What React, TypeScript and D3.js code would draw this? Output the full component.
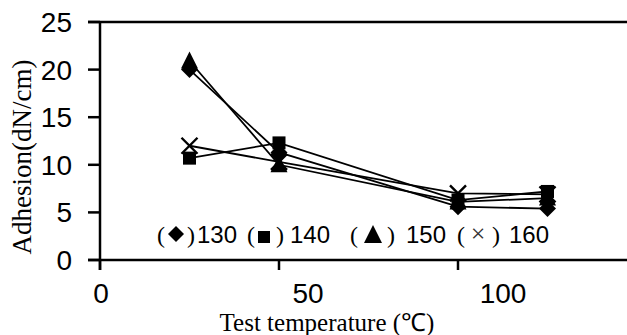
import React from "react";
import * as d3 from "d3";

// Test temperatures (°C) and adhesion (dN/cm) for each curing temperature series
const temperatures = [25, 50, 100, 125];
const series130 = [20.0, 11.3, 5.6, 5.4];
const series140 = [10.7, 12.3, 6.3, 7.2];
const series150 = [20.9, 10.0, 6.1, 6.5];
const series160 = [12.0, 10.3, 7.0, 6.9];

const yTicks = [0, 5, 10, 15, 20, 25];
const xTicks = [0, 50, 100];
const seriesNames = ["130", "140", "150", "160"];

const W = 627;
const H = 335;

const SANS = "'Liberation Sans', Arial, sans-serif";
const SERIF = "'Liberation Serif', 'Times New Roman', serif";

type Shape = "diamond" | "square" | "triangle" | "cross";

function Marker({ cx, cy, shape }: { cx: number; cy: number; shape: Shape }) {
  if (shape === "diamond") {
    const r = 8.5;
    return <path d={`M${cx},${cy - r}L${cx + r},${cy}L${cx},${cy + r}L${cx - r},${cy}Z`} fill="#000" />;
  }
  if (shape === "square") {
    const h = 6.5;
    return <rect x={cx - h} y={cy - h} width={2 * h} height={2 * h} fill="#000" />;
  }
  if (shape === "triangle") {
    const h = 8.5;
    return <path d={`M${cx},${cy - h - 1}L${cx + h},${cy + h - 1}L${cx - h},${cy + h - 1}Z`} fill="#000" />;
  }
  const a = 8;
  return (
    <path
      d={`M${cx - a},${cy - a}L${cx + a},${cy + a}M${cx + a},${cy - a}L${cx - a},${cy + a}`}
      stroke="#000"
      strokeWidth={2.4}
      fill="none"
    />
  );
}

export default function App() {
  const x = d3.scaleLinear().domain([0, 50]).range([100, 279]);
  const y = d3.scaleLinear().domain([0, 25]).range([260, 22]);
  // tick labels of the temperature axis sit on their own spacing
  const xLabel = d3.scaleLinear().domain([0, 50, 100]).range([101, 308, 503]);

  const line = d3
    .line<[number, number]>()
    .x((d) => x(d[0]))
    .y((d) => y(d[1]));

  const allSeries: { values: number[]; shape: Shape }[] = [
    { values: series130, shape: "diamond" },
    { values: series140, shape: "square" },
    { values: series150, shape: "triangle" },
    { values: series160, shape: "cross" },
  ];

  const x0 = x(0);
  const y0 = y(0);
  const yTop = y(25);

  // legend pieces: "(" marker ")" label
  const legendItems: { open: number; mark: number; close: number; text: number; shape: Shape }[] = [
    { open: 161, mark: 176, close: 191, text: 197, shape: "diamond" },
    { open: 251, mark: 264, close: 280, text: 290, shape: "square" },
    { open: 354, mark: 373, close: 391, text: 406, shape: "triangle" },
    { open: 461, mark: 478, close: 496, text: 509, shape: "cross" },
  ];
  const legendY = 243;

  return (
    <svg
      width={W}
      height={H}
      style={{ position: "absolute", left: 0, top: 0, background: "#fff" }}
    >
      <rect width={W} height={H} fill="#fff" />

      {/* frame: top border, y axis, x axis */}
      <line x1={88} x2={W} y1={yTop} y2={yTop} stroke="#000" strokeWidth={2.5} />
      <line x1={88} x2={W} y1={y0} y2={y0} stroke="#000" strokeWidth={2.5} />
      <line x1={x0} x2={x0} y1={yTop} y2={y0 + 10} stroke="#000" strokeWidth={2.5} />

      {yTicks.map((t) => (
        <g key={`y${t}`}>
          <line x1={88} x2={x0} y1={y(t)} y2={y(t)} stroke="#000" strokeWidth={2.5} />
          <text
            x={72}
            y={y(t)}
            dy="0.36em"
            textAnchor="end"
            fontFamily={SANS}
            fontSize={28}
            fill="#000"
          >
            {t}
          </text>
        </g>
      ))}

      {xTicks.map((t) => (
        <g key={`x${t}`}>
          <line x1={x(t)} x2={x(t)} y1={y0} y2={y0 + 10} stroke="#000" strokeWidth={2.5} />
          <text
            x={xLabel(t)}
            y={293}
            dy="0.36em"
            textAnchor="middle"
            fontFamily={SANS}
            fontSize={28}
            fill="#000"
          >
            {t}
          </text>
        </g>
      ))}

      {/* series lines */}
      {allSeries.map((s, i) => (
        <path
          key={`l${i}`}
          d={line(temperatures.map((t, j) => [t, s.values[j]]) as [number, number][]) || ""}
          fill="none"
          stroke="#000"
          strokeWidth={1.8}
        />
      ))}

      {/* series markers */}
      {allSeries.map((s, i) =>
        temperatures.map((t, j) => (
          <Marker key={`m${i}-${j}`} cx={x(t)} cy={y(s.values[j])} shape={s.shape} />
        ))
      )}

      {/* legend */}
      {legendItems.map((it, i) => (
        <g key={`lg${i}`}>
          <text x={it.open} y={legendY} textAnchor="middle" fontFamily={SERIF} fontSize={24} fill="#000">
            (
          </text>
          {it.shape === "cross" ? (
            <text x={it.mark} y={legendY - 1} textAnchor="middle" fontFamily={SERIF} fontSize={26} fill="#333">
              ×
            </text>
          ) : it.shape === "diamond" ? (
            <path
              d={`M${it.mark},${legendY - 17}L${it.mark + 8},${legendY - 9}L${it.mark},${legendY - 1}L${it.mark - 8},${legendY - 9}Z`}
              fill="#000"
            />
          ) : it.shape === "square" ? (
            <rect x={it.mark - 6} y={legendY - 12} width={12} height={12} fill="#000" />
          ) : (
            <path
              d={`M${it.mark},${legendY - 18}L${it.mark + 9},${legendY}L${it.mark - 9},${legendY}Z`}
              fill="#000"
            />
          )}
          <text x={it.close} y={legendY} textAnchor="middle" fontFamily={SERIF} fontSize={24} fill="#000">
            )
          </text>
          <text x={it.text} y={legendY} fontFamily={SANS} fontSize={24} fill="#000">
            {seriesNames[i]}
          </text>
        </g>
      ))}

      {/* axis titles */}
      <text
        x={327}
        y={331}
        textAnchor="middle"
        fontFamily={SERIF}
        fontSize={25}
        fill="#000"
      >
        Test temperature (℃)
      </text>
      <text
        transform={`translate(31,${157}) rotate(-90)`}
        textAnchor="middle"
        fontFamily={SERIF}
        fontSize={27}
        fill="#000"
      >
        Adhesion(dN/cm)
      </text>
    </svg>
  );
}
